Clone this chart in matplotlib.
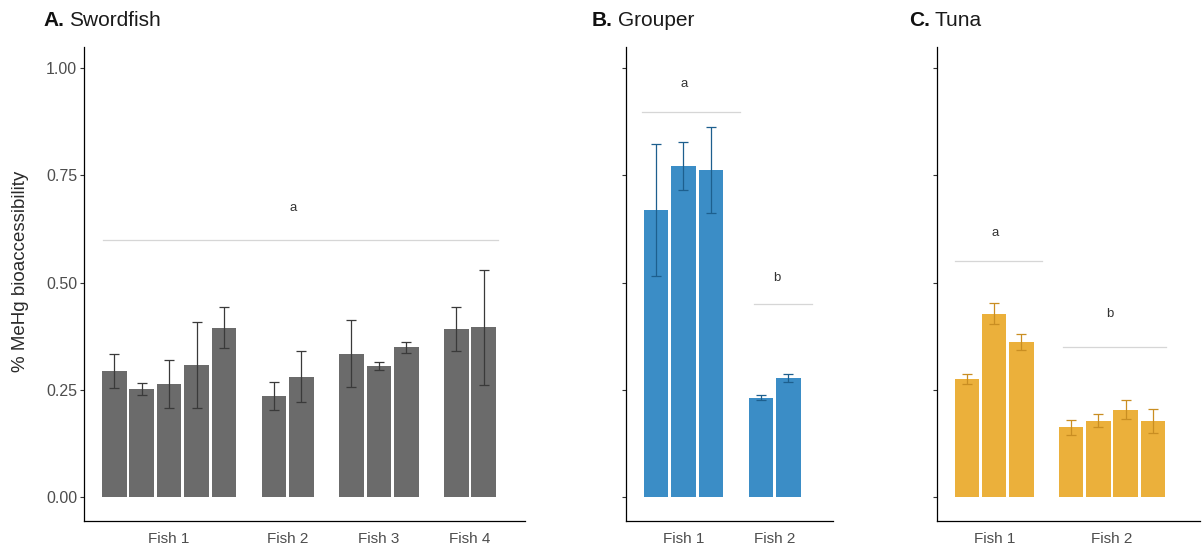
import matplotlib
matplotlib.use("Agg")
import matplotlib.pyplot as plt
import numpy as np

plt.rcParams["font.family"] = ["Liberation Sans", "DejaVu Sans"]

# ---- data (mean, error) ----
sword_groups = ["Fish 1", "Fish 2", "Fish 3", "Fish 4"]
sword_mean = [[0.294, 0.252, 0.264, 0.308, 0.395], [0.236, 0.281], [0.335, 0.306, 0.349], [0.393, 0.396]]
sword_err = [[0.040, 0.014, 0.057, 0.100, 0.048], [0.033, 0.060], [0.079, 0.009, 0.013], [0.051, 0.134]]

grouper_groups = ["Fish 1", "Fish 2"]
grouper_mean = [[0.669, 0.772, 0.762], [0.232, 0.278]]
grouper_err = [[0.153, 0.055, 0.100], [0.006, 0.010]]

tuna_groups = ["Fish 1", "Fish 2"]
tuna_mean = [[0.275, 0.428, 0.362], [0.163, 0.178, 0.204, 0.178]]
tuna_err = [[0.012, 0.024, 0.019], [0.018, 0.015, 0.022, 0.028]]

# significance letters: (letter, line value, text value, line start, line end, text x)
sword_letters = [("a", 0.600, 0.674, -0.42, 13.98, 6.52)]
grouper_letters = [("a", 0.898, 0.963, -0.51, 3.07, 1.03), ("b", 0.450, 0.511, 3.55, 5.69, 4.41)]
tuna_letters = [("a", 0.551, 0.615, -0.44, 2.74, 1.03), ("b", 0.350, 0.4275, 3.52, 7.32, 5.24)]

y_ticks = [0.0, 0.25, 0.5, 0.75, 1.0]

GAP = 1.82
W, H = 1202, 550

fig = plt.figure(figsize=(W / 100, H / 100), dpi=100)
fig.patch.set_facecolor("white")


def px_axes(x0, x1, y_top=47, y_bot=520.5):
    return fig.add_axes([x0 / W, 1 - y_bot / H, (x1 - x0) / W, (y_bot - y_top) / H])


def draw_panel(ax, groups, means, errs, letters, color, ecolor, xlim, show_labels):
    pos, centers = 0.0, []
    for g, (m, e) in enumerate(zip(means, errs)):
        xs = pos + np.arange(len(m))
        ax.bar(xs, m, width=0.9, color=color, edgecolor="none", zorder=2)
        ax.errorbar(xs, m, yerr=e, fmt="none", ecolor=ecolor, elinewidth=0.9,
                    capsize=3.4, capthick=0.9, zorder=3)
        centers.append(xs.mean())
        pos = xs[-1] + GAP
    for letter, ly, ty, x0, x1, tx in letters:
        ax.plot([x0, x1], [ly, ly], color="#d6d6d6", lw=0.9, zorder=1)
        ax.text(tx, ty, letter, ha="center", va="center", fontsize=9.5, color="#333333")
    ax.set_xlim(*xlim)
    ax.set_ylim(-0.054, 1.049)
    ax.set_xticks(centers)
    ax.set_xticklabels(groups, fontsize=11, color="#4d4d4d")
    ax.tick_params(axis="x", length=0, pad=8)
    ax.set_yticks(y_ticks)
    if show_labels:
        ax.set_yticklabels([f"{t:.2f}" for t in y_ticks], fontsize=11.5, color="#4d4d4d")
    else:
        ax.set_yticklabels([])
    ax.tick_params(axis="y", length=3, width=0.8, color="#333333", pad=2)
    for s in ["top", "right"]:
        ax.spines[s].set_visible(False)
    for s in ["left", "bottom"]:
        ax.spines[s].set_linewidth(0.9)
        ax.spines[s].set_color("black")


ax_a = px_axes(84, 525)
draw_panel(ax_a, sword_groups, sword_mean, sword_err, sword_letters,
           "#6b6b6b", "#3a3a3a", (-1.1, 14.96), True)
ax_a.set_ylabel("% MeHg bioaccessibility", fontsize=13.5, color="#2a2a2a")
ax_a.yaxis.set_label_coords(-0.124, 0.527)

ax_b = px_axes(626, 833)
draw_panel(ax_b, grouper_groups, grouper_mean, grouper_err, grouper_letters,
           "#3b8dc6", "#1d5f8e", (-1.09, 6.44), False)

ax_c = px_axes(937, 1200)
draw_panel(ax_c, tuna_groups, tuna_mean, tuna_err, tuna_letters,
           "#ebb03b", "#c98e22", (-1.1, 8.55), False)

# panel titles: bold letter + regular name
titles = [("A.", "Swordfish", 43), ("B.", "Grouper", 592), ("C.", "Tuna", 909)]
fig.canvas.draw()
renderer = fig.canvas.get_renderer()
for tag, name, xp in titles:
    t = fig.text(xp / W, 1 - 21 / H, tag, fontsize=15, fontweight="bold", va="center", ha="left",
                 color="#111111")
    bb = t.get_window_extent(renderer)
    fig.text((bb.x1 + 5) / W, 1 - 21 / H, name, fontsize=15, va="center", ha="left", color="#1a1a1a")

fig.savefig("out.png", dpi=100, facecolor="white")
